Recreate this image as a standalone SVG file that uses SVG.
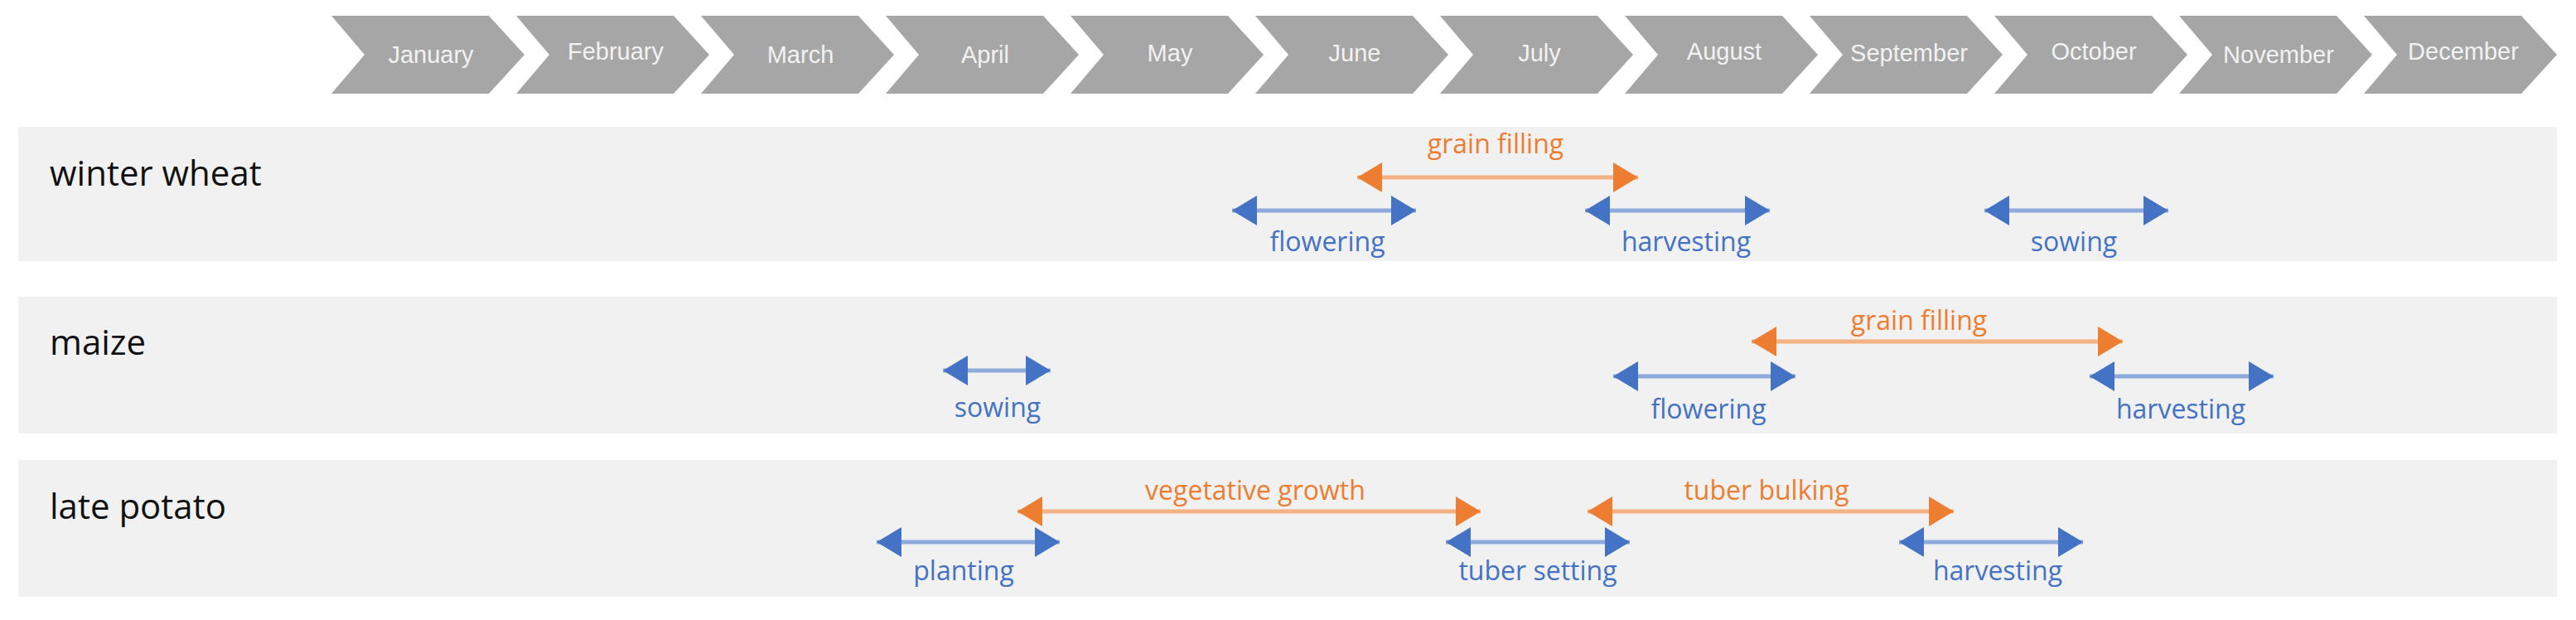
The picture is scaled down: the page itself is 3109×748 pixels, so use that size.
<svg xmlns="http://www.w3.org/2000/svg" width="3109" height="748" viewBox="0 0 3109 748">
<style>
.chev{fill:#a6a6a6}
.mon{font-family:"Liberation Sans",Arial,sans-serif;font-size:29px;fill:#f2f2f2;text-anchor:middle}
.band{fill:#f1f1f1}
.crop{font-family:"Open Sans","Liberation Sans",sans-serif;font-size:42px;fill:#111}
.bl{stroke:#8eaadb;stroke-width:5;marker-start:url(#hbS);marker-end:url(#hbE)}
.or{stroke:#f4b183;stroke-width:5;marker-start:url(#hoS);marker-end:url(#hoE)}
.tb{font-family:"Open Sans","Liberation Sans",sans-serif;font-size:32px;fill:#4472c4;text-anchor:middle}
.to{font-family:"Open Sans","Liberation Sans",sans-serif;font-size:32px;fill:#ed7d31;text-anchor:middle}
</style>
<defs>
<marker id="hbE" markerUnits="userSpaceOnUse" markerWidth="32" markerHeight="36" refX="30" refY="18" orient="auto"><path d="M0,0 L30,18 L0,36Z" fill="#4472c4"/></marker>
<marker id="hbS" markerUnits="userSpaceOnUse" markerWidth="32" markerHeight="36" refX="0" refY="18" orient="auto"><path d="M30,0 L0,18 L30,36Z" fill="#4472c4"/></marker>
<marker id="hoE" markerUnits="userSpaceOnUse" markerWidth="32" markerHeight="36" refX="30" refY="18" orient="auto"><path d="M0,0 L30,18 L0,36Z" fill="#ed7d31"/></marker>
<marker id="hoS" markerUnits="userSpaceOnUse" markerWidth="32" markerHeight="36" refX="0" refY="18" orient="auto"><path d="M30,0 L0,18 L30,36Z" fill="#ed7d31"/></marker>
<path id="ch" class="chev" d="M0,19 L190,19 L233,66 L190,113 L0,113 L40,66Z"/>
</defs>
<rect width="3109" height="748" fill="#fff"/>
<g id="months">
<g id="m1"><use href="#ch" x="400"/><text class="mon" x="520" y="76">January</text></g>
<g id="m2"><use href="#ch" x="623"/><text class="mon" x="743" y="72">February</text></g>
<g id="m3"><use href="#ch" x="846"/><text class="mon" x="966" y="76">March</text></g>
<g id="m4"><use href="#ch" x="1069"/><text class="mon" x="1189" y="76">April</text></g>
<g id="m5"><use href="#ch" x="1292"/><text class="mon" x="1412" y="74">May</text></g>
<g id="m6"><use href="#ch" x="1515"/><text class="mon" x="1635" y="74">June</text></g>
<g id="m7"><use href="#ch" x="1738"/><text class="mon" x="1858" y="74">July</text></g>
<g id="m8"><use href="#ch" x="1961"/><text class="mon" x="2081" y="72">August</text></g>
<g id="m9"><use href="#ch" x="2184"/><text class="mon" x="2304" y="74">September</text></g>
<g id="m10"><use href="#ch" x="2407"/><text class="mon" x="2527" y="72">October</text></g>
<g id="m11"><use href="#ch" x="2630"/><text class="mon" x="2750" y="76">November</text></g>
<g id="m12"><use href="#ch" x="2853"/><text class="mon" x="2973" y="72">December</text></g>
</g>
<g id="wheat"><rect class="band" x="22" y="153" width="3064" height="162"/><text class="crop" x="60" y="224">winter wheat</text></g>
<g id="maize"><rect class="band" x="22" y="358" width="3064" height="165"/><text class="crop" x="60" y="428">maize</text></g>
<g id="potato"><rect class="band" x="22" y="555" width="3064" height="165"/><text class="crop" x="60" y="626">late potato</text></g>
<g id="connectors">
<line class="or" x1="1638" y1="214" x2="1977" y2="214"/>
<line class="bl" x1="1487" y1="254" x2="1709" y2="254"/>
<line class="bl" x1="1913" y1="254" x2="2136" y2="254"/>
<line class="bl" x1="2395" y1="254" x2="2617" y2="254"/>
<line class="bl" x1="1138" y1="447" x2="1268" y2="447"/>
<line class="or" x1="2114" y1="412" x2="2562" y2="412"/>
<line class="bl" x1="1947" y1="454" x2="2167" y2="454"/>
<line class="bl" x1="2522" y1="454" x2="2744" y2="454"/>
<line class="or" x1="1228" y1="617" x2="1787" y2="617"/>
<line class="bl" x1="1058" y1="654" x2="1279" y2="654"/>
<line class="bl" x1="1745" y1="654" x2="1967" y2="654"/>
<line class="or" x1="1916" y1="617" x2="2358" y2="617"/>
<line class="bl" x1="2292" y1="654" x2="2514" y2="654"/>
</g>
<g id="labels">
<text class="to" x="1805" y="185">grain filling</text>
<text class="tb" x="1602" y="303">flowering</text>
<text class="tb" x="2035" y="303">harvesting</text>
<text class="tb" x="2503" y="303">sowing</text>
<text class="tb" x="1204" y="503">sowing</text>
<text class="to" x="2316" y="398">grain filling</text>
<text class="tb" x="2062" y="505">flowering</text>
<text class="tb" x="2632" y="505">harvesting</text>
<text class="to" x="1515" y="603">vegetative growth</text>
<text class="tb" x="1163" y="700">planting</text>
<text class="tb" x="1856" y="700">tuber setting</text>
<text class="to" x="2132" y="603">tuber bulking</text>
<text class="tb" x="2411" y="700">harvesting</text>
</g>
</svg>
